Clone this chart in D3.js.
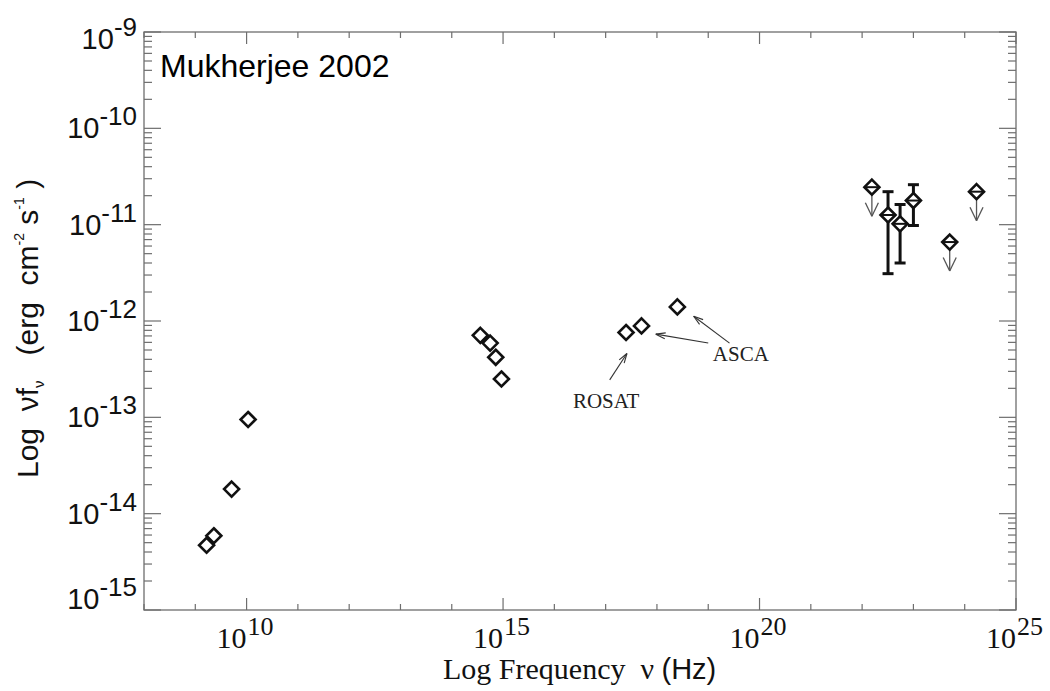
<!DOCTYPE html>
<html>
<head>
<meta charset="utf-8">
<script src="https://cdn.jsdelivr.net/npm/d3@7"></script>
<style>
  html, body { margin: 0; padding: 0; background: #fff; }
  svg { display: block; }
  text { white-space: pre; }
</style>
</head>
<body>
<svg id="chart" width="1050" height="691"></svg>
<script>
// Broadband SED: frequency (Hz) vs nu*F_nu (erg cm^-2 s^-1)
const radioNu   = [1.07e10, 5.1e9, 2.3e9, 1.66e9];
const radioFlux = [9.5e-14, 1.8e-14, 5.9e-15, 4.7e-15];

const opticalNu   = [3.6e14, 5.6e14, 7.2e14, 9.3e14];
const opticalFlux = [7.1e-13, 5.9e-13, 4.2e-13, 2.5e-13];

const xrayNu   = [2.5e17, 5.0e17, 2.5e18];
const xrayFlux = [7.6e-13, 8.9e-13, 1.4e-12];

// gamma-ray detections with error bars
const gammaNu     = [3.2e22, 5.5e22, 1.0e23];
const gammaFlux   = [1.26e-11, 1.02e-11, 1.78e-11];
const gammaErrLo  = [3.1e-12, 4.0e-12, 9.8e-12];
const gammaErrHi  = [2.2e-11, 1.62e-11, 2.6e-11];

// gamma-ray upper limits
const limitNu   = [1.55e22, 5.1e23, 1.7e24];
const limitFlux = [2.45e-11, 6.6e-12, 2.2e-11];

const xTickExps = [10, 15, 20, 25];
const yTickExps = [-9, -10, -11, -12, -13, -14, -15];

// annotations in data coordinates: [nu, flux]
const rosatLabel = { text: "ROSAT", at: [2.3e16, 1.26e-13] };
const rosatArrows = [ { from: [1.2e17, 2.45e-13], to: [2.6e17, 4.6e-13] } ];
const ascaLabel = { text: "ASCA", at: [1.23e19, 3.8e-13] };
const ascaArrows = [
  { from: [1.0e19, 5.9e-13], to: [9.5e17, 7.3e-13] },
  { from: [2.6e19, 5.9e-13], to: [5.2e18, 1.12e-12] }
];

const svg = d3.select("#chart");
const m = { left: 144, right: 1016, top: 32, bottom: 610 };

const x = d3.scaleLog().domain([1e8, 1e25]).range([m.left, m.right]);
const y = d3.scaleLog().domain([1e-15, 1e-9]).range([m.bottom, m.top]);

const axisColor = "#6e6e6e";
const inkColor = "#111";

// frame
svg.append("rect")
  .attr("x", m.left).attr("y", m.top)
  .attr("width", m.right - m.left).attr("height", m.bottom - m.top)
  .attr("fill", "none").attr("stroke", axisColor).attr("stroke-width", 1.3);

// x ticks (each decade, longer every 5 decades), inward on bottom and top
const xDecades = d3.range(8, 26).map(e => Math.pow(10, e));
const gx = svg.append("g").attr("stroke", axisColor).attr("stroke-width", 1.2);
xDecades.forEach(v => {
  const e = Math.round(Math.log10(v));
  const len = (e % 5 === 0) ? 12 : 6;
  const px = x(v);
  gx.append("line").attr("x1", px).attr("x2", px).attr("y1", m.bottom).attr("y2", m.bottom - len);
  gx.append("line").attr("x1", px).attr("x2", px).attr("y1", m.top).attr("y2", m.top + len);
});

// y ticks: decades long, 2..9 short
const gy = svg.append("g").attr("stroke", axisColor).attr("stroke-width", 1.2);
for (let e = -15; e <= -9; e++) {
  for (let k = 1; k <= 9; k++) {
    const v = k * Math.pow(10, e);
    if (v > 1.0001e-9) continue;
    const len = (k === 1) ? 17 : 8;
    const py = y(v);
    gy.append("line").attr("x1", m.left).attr("x2", m.left + len).attr("y1", py).attr("y2", py);
    gy.append("line").attr("x1", m.right).attr("x2", m.right - len).attr("y1", py).attr("y2", py);
  }
}

// x tick labels (serif, base "10" ends at the tick, exponent raised after it)
xTickExps.forEach(e => {
  const px = x(Math.pow(10, e));
  svg.append("text")
    .attr("x", px).attr("y", 648)
    .attr("text-anchor", "end")
    .attr("font-family", "Liberation Serif, Times New Roman, serif")
    .attr("font-size", 30).attr("fill", inkColor)
    .text("10");
  svg.append("text")
    .attr("x", px + 1).attr("y", 635)
    .attr("font-family", "Liberation Serif, Times New Roman, serif")
    .attr("font-size", 26).attr("fill", inkColor)
    .text(String(e));
});

// y tick labels (sans, superscript exponent)
yTickExps.forEach(e => {
  const py = y(Math.pow(10, e));
  const cy = Math.min(Math.max(py, m.top + 7), m.bottom - 11);
  const t = svg.append("text")
    .attr("x", 137).attr("y", cy + 10)
    .attr("text-anchor", "end")
    .attr("font-family", "Liberation Sans, Arial, sans-serif")
    .attr("font-size", 29).attr("fill", inkColor);
  t.append("tspan").text("10");
  t.append("tspan").attr("dy", -13).attr("font-size", 26).text("-" + Math.abs(e));
});

// axis titles
const xt = svg.append("text")
  .attr("x", 443).attr("y", 679)
  .attr("font-family", "Liberation Serif, Times New Roman, serif")
  .attr("font-size", 30).attr("fill", inkColor);
xt.append("tspan").text("Log Frequency  \u03BD ");
xt.append("tspan").attr("font-family", "Liberation Sans, Arial, sans-serif").attr("font-size", 29).text("(Hz)");

const yt = svg.append("text")
  .attr("transform", "translate(38,478) rotate(-90)")
  .attr("font-family", "Liberation Sans, Arial, sans-serif")
  .attr("font-size", 30).attr("fill", inkColor);
yt.append("tspan").text("Log  \u03BDf");
yt.append("tspan").attr("font-size", 15).attr("dy", 6).text("\u03BD");
yt.append("tspan").attr("dy", -6).text("   (erg  cm");
yt.append("tspan").attr("font-size", 14).attr("dy", -14).text("-2");
yt.append("tspan").attr("dy", 14).text(" s");
yt.append("tspan").attr("font-size", 14).attr("dy", -14).text("-1");
yt.append("tspan").attr("dy", 14).text(" )");

// reference label
svg.append("text")
  .attr("x", 160).attr("y", 77)
  .attr("font-family", "Liberation Sans, Arial, sans-serif")
  .attr("font-size", 32).attr("fill", "#000")
  .text("Mukherjee 2002");

// diamonds
const R = 7.5;
const diamond = (cx, cy) => `M${cx},${cy - R}L${cx + R},${cy}L${cx},${cy + R}L${cx - R},${cy}Z`;

function drawDiamonds(nu, flux, bar) {
  const g = svg.append("g");
  nu.forEach((v, i) => {
    const cx = x(v), cy = y(flux[i]);
    g.append("path").attr("d", diamond(cx, cy))
      .attr("fill", "#fff").attr("stroke", inkColor).attr("stroke-width", 2.6)
      .attr("stroke-linejoin", "miter");
    if (bar) {
      g.append("line").attr("x1", cx - R).attr("x2", cx + R).attr("y1", cy).attr("y2", cy)
        .attr("stroke", inkColor).attr("stroke-width", 2);
    }
  });
}

// open-headed arrow
function arrow(g, x1, y1, x2, y2, head, spread, color, w) {
  g.append("line").attr("x1", x1).attr("y1", y1).attr("x2", x2).attr("y2", y2)
    .attr("stroke", color).attr("stroke-width", w);
  const a = Math.atan2(y2 - y1, x2 - x1);
  [-spread, spread].forEach(s => {
    g.append("line")
      .attr("x1", x2).attr("y1", y2)
      .attr("x2", x2 - head * Math.cos(a + s)).attr("y2", y2 - head * Math.sin(a + s))
      .attr("stroke", color).attr("stroke-width", w);
  });
}

// upper-limit arrows, dropping a factor of two below each limit
const ulG = svg.append("g");
limitNu.forEach((v, i) => {
  const cx = x(v);
  arrow(ulG, cx, y(limitFlux[i]), cx, y(limitFlux[i] / 2), 15, 0.45, "#555", 1.3);
});

// error bars
const ebG = svg.append("g").attr("stroke", inkColor).attr("stroke-width", 3);
gammaNu.forEach((v, i) => {
  const cx = x(v);
  ebG.append("line").attr("x1", cx).attr("x2", cx).attr("y1", y(gammaErrLo[i])).attr("y2", y(gammaErrHi[i]));
  [gammaErrLo[i], gammaErrHi[i]].forEach(f => {
    ebG.append("line").attr("x1", cx - 5.5).attr("x2", cx + 5.5).attr("y1", y(f)).attr("y2", y(f));
  });
});

drawDiamonds(radioNu, radioFlux, false);
drawDiamonds(opticalNu, opticalFlux, false);
drawDiamonds(xrayNu, xrayFlux, false);
drawDiamonds(gammaNu, gammaFlux, true);
drawDiamonds(limitNu, limitFlux, true);

// instrument annotations
const annG = svg.append("g");
rosatArrows.concat(ascaArrows).forEach(a => {
  arrow(annG, x(a.from[0]), y(a.from[1]), x(a.to[0]), y(a.to[1]), 10, 0.3, "#333", 1.1);
});
[rosatLabel, ascaLabel].forEach(l => {
  annG.append("text")
    .attr("x", x(l.at[0])).attr("y", y(l.at[1]))
    .attr("font-family", "Liberation Serif, Times New Roman, serif")
    .attr("font-size", 21).attr("fill", "#222")
    .text(l.text);
});
</script>
</body>
</html>
